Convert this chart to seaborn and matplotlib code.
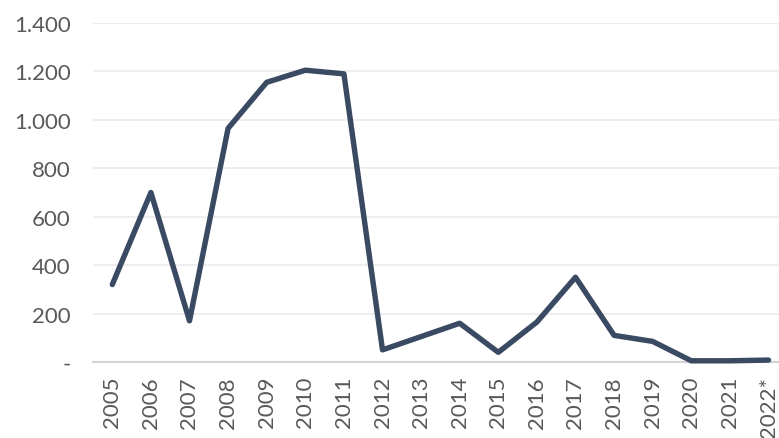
import matplotlib
matplotlib.use("Agg")
import matplotlib.pyplot as plt
import matplotlib.ticker as mticker
import seaborn as sns
import pandas as pd

years = ["2005", "2006", "2007", "2008", "2009", "2010", "2011", "2012", "2013",
         "2014", "2015", "2016", "2017", "2018", "2019", "2020", "2021", "2022*"]
values = [320, 700, 170, 965, 1155, 1205, 1190, 50, 105,
          160, 40, 165, 350, 110, 85, 5, 5, 8]
y_ticks = [0, 200, 400, 600, 800, 1000, 1200, 1400]

df = pd.DataFrame({"year": years, "value": values, "pos": range(len(years))})

sns.set_theme(style="white")
plt.rcParams["font.family"] = ["Lato", "DejaVu Sans"]

fig = plt.figure(figsize=(7.79, 4.39), dpi=100)
ax = fig.add_axes([93 / 779, 1 - 363 / 439, 686 / 779, (363 - 24) / 439])

sns.lineplot(data=df, x="pos", y="value", ax=ax, color="#3b4a63",
             linewidth=3.9, sort=False, solid_capstyle="round",
             solid_joinstyle="round", clip_on=False, zorder=3)

ax.set_xlim(-0.5, -0.5 + 686 / 38.6)
ax.set_ylim(0, 1400)
ax.set_xticks(df["pos"])
ax.set_xticklabels(years, rotation=90, va="top", ha="center")
ax.set_yticks(y_ticks)


def fmt(v, _):
    if v == 0:
        return "-"
    return f"{int(v):,}".replace(",", ".")


ax.yaxis.set_major_formatter(mticker.FuncFormatter(fmt))
ax.set_xlabel("")
ax.set_ylabel("")

ax.grid(axis="y", color="#ebebeb", linewidth=1.2, zorder=0)
ax.grid(axis="x", visible=False)
for side in ["top", "right", "left"]:
    ax.spines[side].set_visible(False)
ax.spines["bottom"].set_color("#d4d4d4")
ax.spines["bottom"].set_linewidth(1.6)

ax.tick_params(axis="both", length=0, labelsize=16, labelcolor="#595959")
ax.tick_params(axis="y", pad=16)
ax.tick_params(axis="x", pad=10)

fig.savefig("out.png", dpi=100)
